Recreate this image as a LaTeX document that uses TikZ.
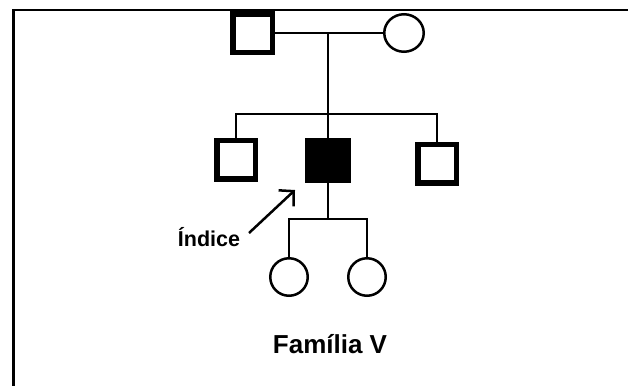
\documentclass[tikz,border=0pt]{standalone}
\usepackage{fontspec}
\setmainfont{Liberation Sans}
\usetikzlibrary{arrows.meta,shapes.geometric}
\begin{document}
\begin{tikzpicture}[x=1pt,y=-1pt,
  male/.style={draw,rectangle,line width=5.5pt,inner sep=0pt,minimum width=38.5pt,minimum height=38.5pt},
  affected/.style={draw,fill=black,rectangle,line width=2pt,inner sep=0pt,minimum width=44pt,minimum height=43pt},
  female/.style={draw,ellipse,line width=2.5pt,inner sep=0pt,minimum width=38pt,minimum height=37.5pt},
  link/.style={line width=2pt},
  label/.style={font=\bfseries\fontsize{21.5}{24}\selectfont,inner sep=0pt},
  title/.style={font=\bfseries\fontsize{26}{30}\selectfont,inner sep=0pt}]
\useasboundingbox (0,0) rectangle (628,386);
\fill[white] (0,0) rectangle (628,386);
% frame: top and left rules
\draw[line width=2.5pt] (628,10) -- (13.5,10) -- (13.5,386);

% parents
\node[male,minimum width=39.5pt] (gf) at (252.5,33) {};
\node[female,minimum width=39.5pt] (gm) at (404,33) {};
\coordinate (mate) at (328,33);
\coordinate (sib) at (328,114);

% siblings
\node[male] (s1) at (236,159.5) {};
\node[affected] (idx) at (328,160.5) {};
\node[male] (s3) at (437,163.5) {};

% children of the index case
\coordinate (kids) at (328,219);
\node[female,minimum width=37.5pt] (d1) at (289,277) {};
\node[female,minimum width=37.5pt] (d2) at (367,277) {};

% connectors
\draw[link] (gf) -- (gm);
\draw[link] (mate) -- (idx.north);
\draw[link] (s1.north) |- (sib) -| (s3.north);
\draw[link] (idx.south) -- (kids);
\draw[link] (d1.north) |- (kids) -| (d2.north);

% index pointer
\node[label,anchor=base] (lbl) at (209,246) {Índice};
\coordinate (arrtail) at (249,233);
\coordinate (arrtip) at (295,190);
\draw[line width=2.5pt,-{Straight Barb[length=10.5pt,width=22pt]}] (arrtail) -- (arrtip);

% caption
\node[title,anchor=base] (cap) at (330,353) {Família V};
\end{tikzpicture}
\end{document}
